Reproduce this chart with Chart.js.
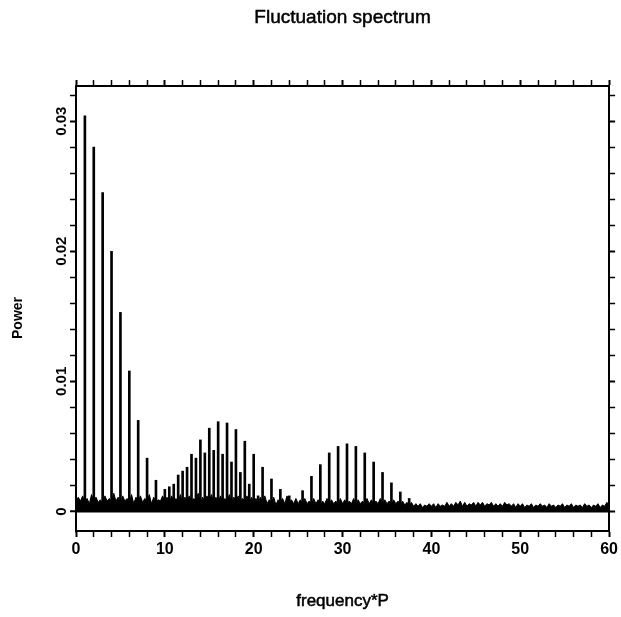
<!DOCTYPE html>
<html>
<head>
<meta charset="utf-8">
<script src="https://cdn.jsdelivr.net/npm/chart.js@4.4.1/dist/chart.umd.min.js"></script>
<style>
  html, body { margin: 0; padding: 0; background: #fff; }
  #wrap { width: 621px; height: 617px; }
</style>
</head>
<body>
<div id="wrap"><canvas id="spectrum"></canvas></div>
<script>
const chartTitle = "Fluctuation spectrum";
const xTitle = "frequency*P";
const yTitle = "Power";

// x axis tick labels (every 10), y axis labels (rotated, every 0.01)
const xTickLabels = [0, 10, 20, 30, 40, 50, 60];
const yTickValues = [0, 0.01, 0.02, 0.03];
const yTickLabels = ["0", "0.01", "0.02", "0.03"];

// harmonic peaks
const harmonicFreq = [
  1, 2, 3, 4, 5, 6, 7, 8, 9, 10,
  10.5, 11, 11.5, 12, 12.5, 13, 13.5, 14, 14.5, 15,
  15.5, 16, 16.5, 17, 17.5, 18, 18.5, 19, 19.5, 20,
  20.5, 21, 22, 23, 24,
  25.5, 26.5, 27.5, 28.5, 29.5, 30.5, 31.5, 32.5, 33.5, 34.5,
  35.5, 36.5, 37.5
];
const harmonicPower = [
  0.0304, 0.0280, 0.0245, 0.0200, 0.0153, 0.0108, 0.0070, 0.0041, 0.0024, 0.0017,
  0.0019, 0.0021, 0.0028, 0.0031, 0.0034, 0.0044, 0.0041, 0.0055, 0.0045, 0.0064,
  0.0047, 0.0069, 0.0044, 0.0068, 0.0038, 0.0063, 0.0030, 0.0054, 0.0021, 0.0044,
  0.0012, 0.0034, 0.0025, 0.0017, 0.0012,
  0.0016, 0.0027, 0.0036, 0.0045, 0.0050, 0.0052, 0.0050, 0.0045, 0.0038, 0.0030,
  0.0022, 0.0015, 0.0010
];

// background noise, one value every 0.25 in frequency*P (0 .. 60)
const noiseStep = 0.25;
const noiseLevel = [
  0.0007, 0.0011, 0.0008, 0.0012, 0.0007, 0.0010, 0.0006, 0.0013, 0.0008, 0.0011, 0.0007, 0.0009, 0.0006, 0.0012, 0.0008, 0.0010, 0.0007, 0.0014, 0.0008, 0.0011,
  0.0006, 0.0012, 0.0008, 0.0010, 0.0007, 0.0013, 0.0006, 0.0011, 0.0008, 0.0012, 0.0007, 0.0010, 0.0008, 0.0013, 0.0006, 0.0011, 0.0007, 0.0009, 0.0008, 0.0012,
  0.0007, 0.0011, 0.0006, 0.0012, 0.0008, 0.0010, 0.0007, 0.0013, 0.0006, 0.0011, 0.0008, 0.0012, 0.0007, 0.0010, 0.0008, 0.0014, 0.0006, 0.0011, 0.0007, 0.0012,
  0.0008, 0.0013, 0.0007, 0.0011, 0.0006, 0.0012, 0.0008, 0.0010, 0.0007, 0.0013, 0.0006, 0.0011, 0.0008, 0.0012, 0.0007, 0.0010, 0.0008, 0.0012, 0.0006, 0.0011,
  0.0007, 0.0010, 0.0006, 0.0011, 0.0007, 0.0012, 0.0006, 0.0009, 0.0007, 0.0011, 0.0005, 0.0009, 0.0007, 0.0010, 0.0006, 0.0012, 0.0007, 0.0009, 0.0006, 0.0010,
  0.0006, 0.0009, 0.0005, 0.0010, 0.0006, 0.0008, 0.0005, 0.0010, 0.0006, 0.0009, 0.0005, 0.0008, 0.0006, 0.0010, 0.0005, 0.0009, 0.0006, 0.0008, 0.0005, 0.0010,
  0.0006, 0.0009, 0.0005, 0.0008, 0.0006, 0.0010, 0.0005, 0.0009, 0.0006, 0.0008, 0.0005, 0.0010, 0.0006, 0.0009, 0.0005, 0.0008, 0.0006, 0.0010, 0.0005, 0.0009,
  0.0006, 0.0008, 0.0005, 0.0009, 0.0006, 0.0008, 0.0005, 0.0008, 0.0005, 0.0007, 0.0004, 0.0007, 0.0004, 0.0006, 0.0004, 0.0006, 0.0003, 0.0005, 0.0004, 0.0006,
  0.0004, 0.0006, 0.0003, 0.0006, 0.0004, 0.0005, 0.0004, 0.0007, 0.0004, 0.0006, 0.0004, 0.0007, 0.0005, 0.0008, 0.0004, 0.0007, 0.0004, 0.0006, 0.0005, 0.0007,
  0.0004, 0.0007, 0.0005, 0.0007, 0.0004, 0.0006, 0.0005, 0.0007, 0.0004, 0.0006, 0.0004, 0.0006, 0.0004, 0.0007, 0.0005, 0.0006, 0.0004, 0.0006, 0.0003, 0.0006,
  0.0004, 0.0006, 0.0003, 0.0005, 0.0004, 0.0006, 0.0003, 0.0005, 0.0004, 0.0006, 0.0004, 0.0005, 0.0003, 0.0006, 0.0004, 0.0005, 0.0003, 0.0005, 0.0004, 0.0006,
  0.0003, 0.0005, 0.0004, 0.0006, 0.0003, 0.0005, 0.0004, 0.0005, 0.0003, 0.0006, 0.0004, 0.0005, 0.0003, 0.0005, 0.0004, 0.0006, 0.0003, 0.0005, 0.0004, 0.0007,
  0.0004
];

const sansFont = '"Liberation Sans", Arial, sans-serif';

function isMajor(value, every) {
  const q = value / every;
  return Math.abs(q - Math.round(q)) < 1e-6;
}

// titles and rotated y labels drawn on top of the chart
const textPlugin = {
  id: "texts",
  afterDraw(chart) {
    const { ctx, chartArea, scales } = chart;
    const midX = (chartArea.left + chartArea.right) / 2;
    ctx.save();
    ctx.fillStyle = "#000";
    ctx.strokeStyle = "#000";
    ctx.lineWidth = 0.5;
    ctx.textAlign = "center";
    ctx.textBaseline = "middle";

    ctx.font = "19px " + sansFont;
    ctx.fillText(chartTitle, midX, 18);
    ctx.strokeText(chartTitle, midX, 18);

    ctx.font = "17px " + sansFont;
    ctx.fillText(xTitle, midX, 601);
    ctx.strokeText(xTitle, midX, 601);

    ctx.font = "bold 15px " + sansFont;
    yTickValues.forEach((v, i) => {
      const y = scales.y.getPixelForValue(v);
      ctx.save();
      ctx.translate(chartArea.left - 14, y);
      ctx.rotate(-Math.PI / 2);
      ctx.fillText(yTickLabels[i], 0, 0);
      ctx.restore();
    });

    ctx.font = "bold 14px " + sansFont;
    ctx.save();
    ctx.translate(18, 318);
    ctx.rotate(-Math.PI / 2);
    ctx.fillText(yTitle, 0, 0);
    ctx.restore();

    ctx.restore();
  }
};

const tickGrid = (every) => ({
  drawOnChartArea: false,
  drawTicks: true,
  tickLength: 6,
  tickColor: "#000",
  tickWidth: (c) => (c.tick && isMajor(c.tick.value, every) ? 2 : 1.5),
  offset: false
});

const config = {
  type: "line",
  data: {
    datasets: [
      {
        type: "bar",
        label: "harmonics",
        data: harmonicFreq.map((f, i) => ({ x: f, y: harmonicPower[i] })),
        backgroundColor: "#000",
        borderWidth: 0,
        barThickness: 2
      },
      {
        type: "line",
        label: "noise",
        data: noiseLevel.map((v, i) => ({ x: i * noiseStep, y: v })),
        borderColor: "#000",
        backgroundColor: "#000",
        borderWidth: 1,
        pointRadius: 0,
        tension: 0,
        fill: "origin"
      }
    ]
  },
  options: {
    responsive: true,
    maintainAspectRatio: false,
    animation: false,
    devicePixelRatio: 1,
    layout: { padding: 0 },
    plugins: {
      legend: { display: false },
      tooltip: { enabled: false },
      title: { display: false }
    },
    scales: {
      x: {
        type: "linear",
        position: "bottom",
        min: 0,
        max: 60,
        offset: false,
        ticks: {
          stepSize: 2,
          autoSkip: false,
          maxRotation: 0,
          padding: 3,
          color: "#000",
          font: { family: sansFont, size: 16, weight: "bold" },
          callback: (v) => (xTickLabels.includes(v) ? String(v) : "")
        },
        grid: tickGrid(10),
        border: { display: true, color: "#000", width: 2 },
        afterFit: (s) => { s.height = 86; }
      },
      xTop: {
        type: "linear",
        position: "top",
        min: 0,
        max: 60,
        offset: false,
        ticks: { stepSize: 2, display: false },
        grid: tickGrid(10),
        border: { display: true, color: "#000", width: 2 },
        afterFit: (s) => { s.height = 86; }
      },
      y: {
        type: "linear",
        position: "left",
        min: -0.0015,
        max: 0.0327,
        ticks: { stepSize: 0.002, includeBounds: false, display: false },
        grid: {
          drawOnChartArea: true,
          drawTicks: true,
          tickLength: 6,
          color: (c) => (c.tick && c.tick.value === 0 ? "#000" : "rgba(0,0,0,0)"),
          lineWidth: (c) => (c.tick && c.tick.value === 0 ? 2.5 : 1),
          tickColor: "#000",
          tickWidth: (c) => (c.tick && isMajor(c.tick.value, 0.01) ? 2 : 1.5)
        },
        border: { display: true, color: "#000", width: 2 },
        afterFit: (s) => { s.width = 76; }
      },
      yRight: {
        type: "linear",
        position: "right",
        min: -0.0015,
        max: 0.0327,
        ticks: { stepSize: 0.002, includeBounds: false, display: false },
        grid: {
          drawOnChartArea: false,
          drawTicks: true,
          tickLength: 6,
          tickColor: "#000",
          tickWidth: (c) => (c.tick && isMajor(c.tick.value, 0.01) ? 2 : 1.5)
        },
        border: { display: true, color: "#000", width: 2 },
        afterFit: (s) => { s.width = 11; }
      }
    }
  },
  plugins: [textPlugin]
};

new Chart(document.getElementById("spectrum"), config);
</script>
</body>
</html>
